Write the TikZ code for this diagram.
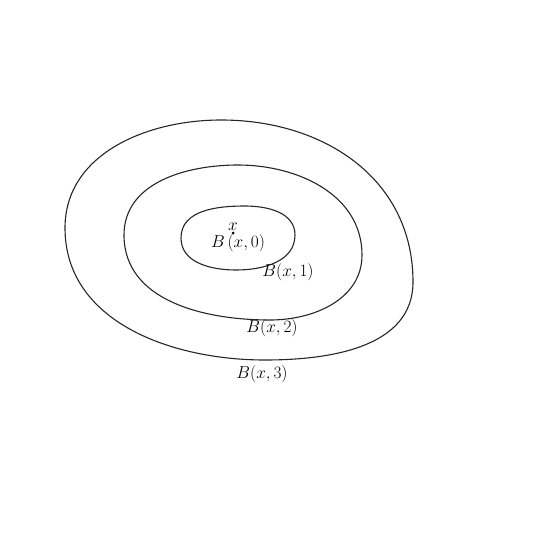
\documentclass[tikz,border=0pt]{standalone}
\usepackage{amsmath}
\usepackage{tikz}
\usetikzlibrary{positioning,calc}

\begin{document}
\begin{tikzpicture}[
    x=1pt, y=1pt,
    every node/.style={font=\fontsize{18}{20}\selectfont},
    ring/.style={draw=black!85, line width=1.1pt},
    lbl/.style={inner sep=1pt},
    pt/.style={circle, fill=black, inner sep=0pt, minimum size=3pt}
]
    \useasboundingbox (0,0) rectangle (533,-535);

    % nested balls around x
    \draw[ring] (65,-228) to[out=90,in=180] (221,-120) to[out=0,in=90,looseness=1.05] (413,-282)
        to[out=-90,in=0] (265,-360) to[out=180,in=-90] cycle;
    \draw[ring] (124,-235) to[out=90,in=180] (238,-165) to[out=0,in=90] (362,-255)
        to[out=-90,in=0] (270,-320) to[out=180,in=-90] cycle;
    \draw[ring] (181,-238) to[out=90,in=180] (245,-206) to[out=0,in=90] (295,-235)
        to[out=-90,in=0] (236,-270) to[out=180,in=-90] cycle;

    \node[pt] (x) at (233,-233) {};
    \node[lbl, above=0pt of x] (xname) {$x$};
    \node[lbl] (b0) at (238,-243) {$B\,(x,0)$};
    \node[lbl] (b1) at (288,-272) {$B(x,1)$};
    \node[lbl] (b2) at (272,-328) {$B(x,2)$};
    \node[lbl] (b3) at (262,-374) {$B(x,3)$};
\end{tikzpicture}
\end{document}
